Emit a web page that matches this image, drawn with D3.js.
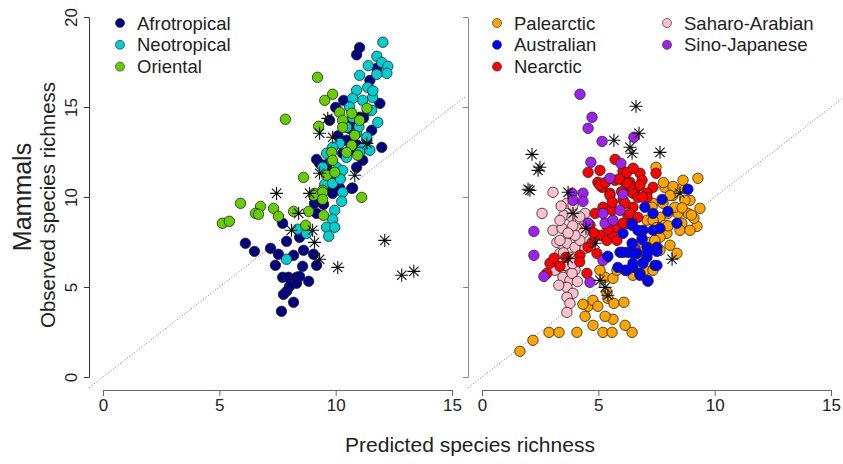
<!DOCTYPE html>
<html>
<head>
<meta charset="utf-8">
<script src="https://cdn.jsdelivr.net/npm/d3@7"></script>
<style>
  body { margin: 0; background: #fff; }
  svg { display: block; font-family: "Liberation Sans", Arial, sans-serif; }
</style>
</head>
<body>
<div id="chart"></div>
<script>
// Mammals: observed vs predicted species richness, two panels

// ---- data (predicted, observed) ----
// left panel
const afrotropical = [
  [11.03,18.3],[10.9,17.9],[6.12,7.43],[6.51,6.98],[7.2,7.15],[7.54,6.82],[7.89,7.54],[7.41,6.21],
  [7.72,5.54],[7.97,5.54],[8.32,5.54],[8.45,5.59],[8.84,5.32],[8.58,6.15],[8.19,6.76],[8.62,7.04],
  [9.05,6.82],[9.18,6.21],[8.32,5.21],[8.02,5.04],[7.89,4.76],[7.76,4.59],[8.19,4.15],[7.67,3.65],
  [7.72,8.54],[8.45,7.76],[9.09,9.65],[9.18,9.09],[9.48,9.59],[9.87,10.2],[10.17,10.5],[10.73,10.5],
  [10.04,10.88],[11.47,16.48],[11.77,17.15],[11.9,15.2],[10.0,14.98],[10.34,15.37],[11.55,13.71],
  [11.98,12.76],[9.18,12.09],[9.31,11.87],[10.69,10.48],[9.87,10.76],[10.17,11.32],[10.9,11.65],
  [11.16,12.04],[11.34,13.15],[10.47,13.15],[10.3,12.43],[9.83,11.37],[9.61,10.54],[11.38,14.82],
  [11.03,14.43],[10.73,14.1],[9.74,14.26],[10.6,12.6],[10.6,13.8],[10.9,12.9],[11.2,14.4],
  [10.1,13.4],[9.6,11.8]
];
const neotropical = [
  [12.03,18.6],[11.77,17.82],[11.98,17.48],[12.24,17.26],[12.2,16.87],[11.77,16.82],[11.03,16.76],
  [10.9,15.93],[11.38,16.09],[11.59,15.54],[11.16,15.37],[10.73,15.48],[11.55,14.82],[11.81,14.15],
  [10.73,14.43],[10.47,13.87],[10.9,13.54],[11.34,13.32],[11.16,12.7],[11.47,12.6],[10.17,12.98],
  [9.87,12.76],[10.47,12.2],[9.83,12.04],[10.04,11.65],[10.3,11.48],[11.03,12.48],[9.61,12.43],
  [9.44,11.65],[10.3,10.26],[9.53,10.7],[9.87,10.76],[10.26,9.76],[9.96,9.26],[9.87,8.76],
  [9.61,8.32],[9.96,8.32],[9.7,7.82],[8.36,8.21],[8.75,7.98],[7.89,6.54],[11.0,13.9],[11.6,15.9],
  [10.6,15.0],[11.4,17.3],[10.2,11.0]
];
const oriental = [
  [9.22,16.65],[9.87,15.71],[9.53,15.37],[7.84,14.32],[9.27,13.93],[10.17,14.71],[10.69,14.65],
  [11.34,14.93],[10.3,14.26],[11.03,14.26],[10.3,13.87],[10.82,13.43],[10.69,12.87],[9.83,12.48],
  [10.47,12.48],[10.95,12.32],[9.87,12.04],[9.61,11.21],[9.96,11.37],[8.62,11.09],[9.44,10.37],
  [9.09,10.2],[11.12,9.98],[5.91,9.65],[6.77,9.48],[6.55,9.09],[6.68,9.04],[7.33,9.37],[7.54,8.93],
  [8.19,9.2],[8.84,9.2],[9.05,10.09],[9.44,10.26],[9.44,9.87],[9.48,8.98],[8.71,8.43],[5.13,8.54],
  [5.43,8.65]
];
const leftStars = [
  [9.66,14.37],[9.31,13.54],[9.87,13.32],[10.82,11.21],[11.34,12.98],[9.31,11.32],[7.46,10.2],
  [8.88,10.2],[8.41,9.09],[8.1,8.15],[9.01,8.15],[9.09,7.48],[9.31,6.54],[10.09,6.09],[12.11,7.59],
  [12.84,5.65],[13.36,5.87]
];

// right panel
const palearctic = [
  [1.63,1.43],[2.19,2.04],[2.88,2.48],[3.31,2.48],[4.08,2.48],[5.2,2.48],[5.59,2.48],[6.45,2.48],
  [6.15,2.87],[5.63,3.21],[5.29,3.37],[4.77,2.87],[4.43,3.37],[4.56,3.93],[4.34,4.04],[4.77,4.26],
  [4.98,3.93],[5.41,4.37],[5.67,4.09],[6.1,4.15],[5.29,5.54],[5.63,5.48],[5.37,4.71],[5.07,5.93],
  [5.8,5.93],[7.0,5.93],[6.88,7.71],[7.09,8.71],[7.35,9.65],[8.38,6.87],[9.24,8.37],[9.11,8.82],
  [9.37,9.37],[8.94,9.82],[8.21,10.09],[7.86,10.54],[8.21,10.59],[8.64,10.54],[8.85,9.09],[8.42,9.09],
  [7.99,9.09],[7.65,8.87],[7.35,8.71],[7.31,9.43],[7.95,7.98],[7.65,7.76],[7.22,7.48],[7.0,7.04],
  [7.35,5.93],[6.49,5.65],[6.92,6.65],[8.29,9.43],[8.59,8.54],[7.78,9.65],[7.48,11.65],[9.28,11.04],
  [8.64,10.93],[7.65,7.04],[8.08,7.32],[8.51,8.15],[8.94,8.15],[7.86,8.43],[7.43,7.59],[8.72,9.82],
  [8.08,10.09],[6.7,7.2],[6.4,7.0],[7.8,10.8],[8.0,8.4],[8.6,9.4],[9.0,9.0],[7.5,8.3]
];
const saharoArabian = [
  [3.05,10.26],[2.58,9.09],[3.65,9.65],[3.91,9.54],[3.52,8.98],[3.87,8.87],[4.43,9.09],[3.05,8.15],
  [3.44,8.26],[3.78,7.98],[4.08,8.26],[4.34,7.98],[3.22,7.48],[3.65,7.43],[4.0,7.21],[4.43,7.15],
  [3.35,6.87],[3.78,6.65],[4.08,6.48],[3.7,6.09],[4.0,5.93],[3.48,5.54],[3.78,5.37],[3.65,4.98],
  [3.91,4.65],[3.65,4.43],[3.78,4.09],[3.65,3.59],[3.14,5.93],[4.43,8.54],[3.35,7.59],[4.21,7.59],
  [3.57,6.2],[3.87,5.76],[4.0,7.87],[3.35,8.7],[3.4,9.5],[3.9,8.4],[4.2,8.9],[3.7,8.0],[3.5,6.9],
  [3.9,6.3],[3.3,5.1],[4.1,5.3]
];
const nearctic = [
  [4.56,11.37],[5.07,11.48],[5.72,12.09],[6.06,11.43],[5.72,10.93],[4.98,10.82],[5.16,10.54],
  [5.5,10.21],[6.06,10.93],[6.36,10.82],[6.79,11.32],[6.88,10.93],[6.66,10.54],[6.27,10.54],
  [7.35,10.54],[7.09,10.21],[7.48,11.32],[6.23,11.37],[2.92,6.32],[2.79,5.76],[3.35,6.15],[3.61,6.65],
  [4.51,5.76],[4.56,7.21],[4.94,6.87],[4.73,7.48],[5.07,7.87],[5.37,7.59],[5.59,7.98],[5.2,9.43],
  [5.5,10.09],[5.07,10.65],[5.8,8.32],[6.23,8.54],[6.27,8.98],[6.49,9.43],[6.06,9.82],[6.49,10.21],
  [6.36,10.65],[5.37,6.65],[5.8,7.59],[6.23,10.76],[6.79,10.65],[6.15,9.65],[6.7,9.98],[7.09,9.98],
  [6.36,9.09],[6.7,8.87],[6.06,8.54],[4.64,8.43],[4.86,9.09],[5.59,9.26],[4.21,6.76],[5.9,11.0],
  [6.5,11.6],[5.3,10.8],[6.0,10.3],[5.6,9.7],[6.9,10.0],[4.8,8.0],[5.4,8.2],[4.2,6.4],[3.1,6.6]
];
const sinoJapanese = [
  [4.21,15.71],[4.73,14.43],[4.56,13.82],[5.16,13.09],[6.53,13.32],[5.97,11.87],[4.68,11.93],
  [5.5,11.04],[3.87,10.21],[4.34,10.21],[3.91,9.82],[4.34,9.76],[2.23,8.09],[2.23,6.76],[2.66,5.59],
  [4.56,8.54],[5.2,9.09],[5.29,8.54],[5.63,8.71],[5.93,9.26],[6.06,10.15],[4.64,5.26],[5.2,6.48],
  [6.57,7.15]
];
const australian = [
  [5.41,6.71],[5.84,6.09],[6.15,5.93],[6.49,6.09],[6.79,5.76],[7.13,5.37],[7.43,6.2],[7.09,6.65],
  [6.66,6.87],[6.27,6.93],[5.93,6.93],[7.09,7.21],[7.52,7.21],[6.45,8.54],[6.92,8.15],[6.06,7.98],
  [7.35,9.09],[7.0,9.43],[8.85,10.43],[7.74,9.87],[7.99,9.2],[8.38,8.54],[6.45,8.43],[6.7,8.15],
  [7.35,8.15],[7.65,8.26],[6.88,7.65],[6.45,7.43],[6.06,6.93],[6.49,6.87],[7.13,6.93],[7.52,6.98],
  [7.52,6.2],[6.92,6.32],[6.49,6.32],[6.23,5.93],[6.79,5.65],[7.13,5.32]
];
const rightStars = [
  [6.62,15.04],[6.75,13.54],[5.67,13.15],[6.36,12.76],[6.45,12.43],[7.65,12.48],[2.15,12.37],
  [2.49,11.65],[2.41,11.48],[2.06,10.37],[1.98,10.43],[3.7,10.26],[3.91,9.09],[4.47,8.26],[4.86,7.43],
  [5.07,5.37],[5.29,4.98],[5.41,4.54],[3.7,6.59],[8.17,6.54],[8.51,10.21]
];

// tick values and labels
const X_TICKS = [0, 5, 10, 15];
const Y_TICKS = [0, 5, 10, 15, 20];
const X_AXIS_LABEL = "Predicted species richness";
const Y_AXIS_LABEL = "Observed species richness";
const ROW_LABEL = "Mammals";

// series per panel (drawing order), name + colour
const leftSeries = [
  {name: "Afrotropical", color: "#000080", data: afrotropical},
  {name: "Neotropical", color: "#00CED1", data: neotropical},
  {name: "Oriental", color: "#66CD00", data: oriental}
];
const rightSeries = [
  {name: "Palearctic", color: "#FFA500", data: palearctic},
  {name: "Saharo-Arabian", color: "#FFC0CB", data: saharoArabian},
  {name: "Nearctic", color: "#FF0000", data: nearctic},
  {name: "Sino-Japanese", color: "#A020F0", data: sinoJapanese},
  {name: "Australian", color: "#0000FF", data: australian}
];

const W = 843, H = 464;
const Y_PIX = [377, 17];        // pixel rows for 0 and 20
const X_AXIS_Y = 390;            // where the x-axis line sits

const svg = d3.select("#chart").append("svg")
  .attr("width", W).attr("height", H);

// asterisk (R pch = 8)
function starPath(s) {
  const d = s * 0.72;
  return `M${-s},0H${s}M0,${-s}V${s}M${-d},${-d}L${d},${d}M${-d},${d}L${d},${-d}`;
}

function drawPanel(opts) {
  const x = d3.scaleLinear().domain([0, 15]).range(opts.xRange);
  const y = d3.scaleLinear().domain([0, 20]).range(Y_PIX);

  const g = svg.append("g");

  // clip to the plot region (R adds 4% each side)
  const clipId = "clip" + opts.id;
  svg.append("clipPath").attr("id", clipId)
    .append("rect")
    .attr("x", x(-0.6)).attr("y", y(20.8))
    .attr("width", x(15.6) - x(-0.6)).attr("height", y(-0.8) - y(20.8));

  // 1:1 line
  g.append("line")
    .attr("clip-path", `url(#${clipId})`)
    .attr("x1", x(-1)).attr("y1", y(-1))
    .attr("x2", x(21)).attr("y2", y(21))
    .attr("stroke", "#777")
    .attr("stroke-width", 1)
    .attr("stroke-dasharray", "1,2");

  // x axis
  const xAxis = g.append("g")
    .attr("transform", `translate(0,${X_AXIS_Y})`)
    .call(d3.axisBottom(x).tickValues(X_TICKS).tickSize(6).tickSizeOuter(0).tickPadding(3));
  xAxis.selectAll("path, line").attr("stroke", "#666");
  xAxis.selectAll("text").attr("font-size", 17).attr("fill", "#222")
    .attr("font-family", "Liberation Sans, Arial, sans-serif");

  // y axis
  const yAxis = g.append("g")
    .attr("transform", `translate(${x(-0.6)},0)`)
    .call(d3.axisLeft(y).tickValues(Y_TICKS).tickSize(5).tickSizeOuter(0));
  yAxis.selectAll("path, line").attr("stroke", opts.id === "L" ? "#333" : "#888");
  if (opts.showYLabels) {
    yAxis.selectAll("text")
      .attr("transform", "rotate(-90)")
      .attr("x", 0).attr("y", -12).attr("dy", 0)
      .attr("text-anchor", "middle")
      .attr("font-size", 17).attr("fill", "#222")
      .attr("font-family", "Liberation Sans, Arial, sans-serif");
  } else {
    yAxis.selectAll("text").remove();
  }

  // points
  opts.series.forEach(s => {
    g.append("g").selectAll("circle")
      .data(s.data)
      .join("circle")
      .attr("cx", d => x(d[0]))
      .attr("cy", d => y(d[1]))
      .attr("r", 5.2)
      .attr("fill", s.color)
      .attr("stroke", "#222")
      .attr("stroke-width", 0.8);
  });

  // outliers as asterisks
  g.append("g").selectAll("path")
    .data(opts.stars)
    .join("path")
    .attr("transform", d => `translate(${x(d[0])},${y(d[1])})`)
    .attr("d", starPath(6.5))
    .attr("fill", "none")
    .attr("stroke", "#111")
    .attr("stroke-width", 1.1);

  // legend
  opts.legend.forEach((col, ci) => {
    col.forEach((s, i) => {
      const ly = 23 + i * 21.8;
      const lx = opts.legendX[ci];
      g.append("circle")
        .attr("cx", lx).attr("cy", ly).attr("r", 4.5)
        .attr("fill", s.color).attr("stroke", "#333").attr("stroke-width", 0.7);
      g.append("text")
        .attr("x", lx + 17).attr("y", ly).attr("dy", "0.36em")
        .attr("font-size", 18.5).attr("fill", "#222")
        .text(s.name);
    });
  });
}

drawPanel({
  id: "L", xRange: [103, 452], series: leftSeries, stars: leftStars, showYLabels: true,
  legend: [leftSeries], legendX: [120]
});

const byName = n => rightSeries.find(s => s.name === n);
drawPanel({
  id: "R", xRange: [482, 831], series: rightSeries, stars: rightStars, showYLabels: false,
  legend: [
    [byName("Palearctic"), byName("Australian"), byName("Nearctic")],
    [byName("Saharo-Arabian"), byName("Sino-Japanese")]
  ],
  legendX: [497, 667]
});

// shared labels
svg.append("text")
  .attr("x", 470).attr("y", 452)
  .attr("text-anchor", "middle")
  .attr("font-size", 21).attr("fill", "#222")
  .text(X_AXIS_LABEL);

svg.append("text")
  .attr("transform", "translate(55,205) rotate(-90)")
  .attr("text-anchor", "middle")
  .attr("font-size", 20.5).attr("fill", "#222")
  .text(Y_AXIS_LABEL);

svg.append("text")
  .attr("transform", "translate(31,197) rotate(-90)")
  .attr("text-anchor", "middle")
  .attr("font-size", 25).attr("fill", "#222")
  .text(ROW_LABEL);
</script>
</body>
</html>
